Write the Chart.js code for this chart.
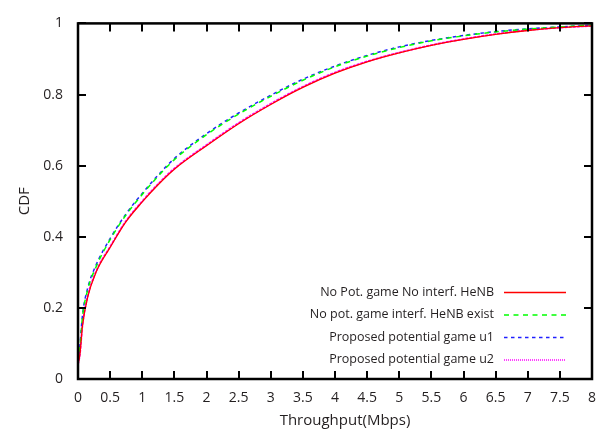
<!DOCTYPE html>
<html>
<head>
<meta charset="utf-8">
<script src="https://cdn.jsdelivr.net/npm/chart.js@4.4.1/dist/chart.umd.min.js"></script>
<style>
  body { margin: 0; background: #fff; }
  #wrap { width: 610px; height: 430px; }
</style>
</head>
<body>
<div id="wrap"><canvas id="myChart" width="610" height="430"></canvas></div>
<script>
// throughput values (Mbps) where the CDF curves were read
const throughput = [0, 0.03, 0.07, 0.15, 0.28, 0.5, 0.75, 1, 1.25, 1.5, 2, 2.5, 3, 3.5, 4, 4.5, 5, 5.5, 6, 6.5, 7, 7.5, 8];

const cdfNoPotNoInterf = [0.04, 0.07, 0.15, 0.23, 0.30, 0.37, 0.443, 0.498, 0.547, 0.59, 0.656, 0.718, 0.772, 0.82, 0.86, 0.892, 0.917, 0.938, 0.955, 0.969, 0.98, 0.988, 0.993];
const cdfNoPotInterf   = [0.05, 0.09, 0.175, 0.25, 0.315, 0.392, 0.462, 0.519, 0.571, 0.617, 0.687, 0.745, 0.795, 0.84, 0.878, 0.908, 0.932, 0.951, 0.965, 0.976, 0.984, 0.99, 0.995];
const cdfPotU1         = [0.05, 0.095, 0.18, 0.255, 0.32, 0.395, 0.465, 0.522, 0.574, 0.62, 0.69, 0.748, 0.798, 0.843, 0.88, 0.91, 0.934, 0.952, 0.966, 0.977, 0.985, 0.99, 0.995];
const cdfPotU2         = [0.041, 0.07, 0.152, 0.232, 0.302, 0.372, 0.445, 0.5, 0.549, 0.592, 0.658, 0.72, 0.774, 0.822, 0.862, 0.893, 0.918, 0.939, 0.956, 0.97, 0.981, 0.988, 0.993];

const seriesLabels = [
  "No Pot. game No interf. HeNB",
  "No pot. game interf. HeNB exist",
  "Proposed potential game u1",
  "Proposed potential game u2"
];
const seriesValues = [cdfNoPotNoInterf, cdfNoPotInterf, cdfPotU1, cdfPotU2];
const colors = ["#ff0000", "#00ff00", "#2020ff", "#ff00ff"];
const dashes = [[], [5, 4.5], [3.5, 3.5], [3, 1]];
const legendDashes = [[], [5, 4.5], [3.5, 3.5], [1, 1]];
const widths = [1.3, 1.5, 1.5, 1.8];

const xTitle = "Throughput(Mbps)";
const textColor = "#231f20";
Chart.defaults.font.family = "'Open Sans', sans-serif";
Chart.defaults.font.size = 14;
Chart.defaults.color = textColor;

// gnuplot style frame, inner ticks, x title and legend
const framePlugin = {
  id: "frame",
  afterDatasetsDraw(chart) {
    const { ctx, chartArea: a, scales: { x, y } } = chart;
    ctx.save();
    ctx.strokeStyle = "#000";
    ctx.lineWidth = 2;
    ctx.beginPath();
    x.ticks.forEach(t => {
      const px = Math.round(x.getPixelForValue(t.value));
      ctx.moveTo(px, a.bottom); ctx.lineTo(px, a.bottom - 8);
      ctx.moveTo(px, a.top); ctx.lineTo(px, a.top + 8);
    });
    y.ticks.forEach(t => {
      const py = Math.round(y.getPixelForValue(t.value));
      ctx.moveTo(a.left, py); ctx.lineTo(a.left + 8, py);
      ctx.moveTo(a.right, py); ctx.lineTo(a.right - 8, py);
    });
    ctx.stroke();
    ctx.lineWidth = 2.5;
    ctx.strokeRect(a.left, a.top, a.right - a.left, a.bottom - a.top);

    // x axis title (sits a little right of centre in the original)
    ctx.fillStyle = textColor;
    ctx.font = "15px 'Open Sans', sans-serif";
    ctx.textAlign = "center";
    ctx.textBaseline = "middle";
    ctx.fillText(xTitle, (a.left + a.right) / 2 + 10, 421);

    // legend, bottom right inside the plot
    const lineEnd = a.right - 26;
    const lineStart = lineEnd - 62;
    let rowY = a.bottom - 87;
    ctx.font = "12.5px 'Open Sans', sans-serif";
    ctx.textAlign = "right";
    chart.data.datasets.forEach((ds, i) => {
      ctx.fillStyle = textColor;
      ctx.fillText(ds.label, lineStart - 10, rowY);
      ctx.strokeStyle = ds.borderColor;
      ctx.lineWidth = 1.3;
      ctx.setLineDash(legendDashes[i]);
      ctx.beginPath();
      ctx.moveTo(lineStart, rowY + 0.5);
      ctx.lineTo(lineEnd, rowY + 0.5);
      ctx.stroke();
      ctx.setLineDash([]);
      rowY += 22.5;
    });
    ctx.restore();
  }
};

const ctx = document.getElementById("myChart").getContext("2d");

new Chart(ctx, {
  type: "line",
  data: {
    datasets: seriesLabels.map((label, i) => ({
      label: label,
      data: throughput.map((t, j) => ({ x: t, y: seriesValues[i][j] })),
      borderColor: colors[i],
      borderDash: dashes[i],
      borderWidth: widths[i],
      pointRadius: 0,
      fill: false,
      cubicInterpolationMode: "monotone"
    }))
  },
  options: {
    responsive: false,
    animation: false,
    events: [],
    layout: { padding: { left: 0, right: 18, top: 16, bottom: 0 } },
    plugins: {
      legend: { display: false },
      tooltip: { enabled: false }
    },
    scales: {
      x: {
        type: "linear",
        min: 0,
        max: 8,
        border: { display: false },
        grid: { display: false, drawTicks: false },
        ticks: {
          stepSize: 0.5,
          padding: 11,
          maxRotation: 0,
          autoSkip: false,
          color: textColor,
          callback: v => String(+v.toFixed(2))
        },
        afterFit: s => { s.height = 51; }
      },
      y: {
        min: 0,
        max: 1,
        border: { display: false },
        grid: { display: false, drawTicks: false },
        ticks: {
          stepSize: 0.2,
          padding: 15,
          color: textColor,
          callback: v => String(+v.toFixed(2))
        },
        title: {
          display: true,
          text: "CDF",
          color: textColor,
          font: { size: 15 },
          padding: { top: 16, bottom: 0 }
        },
        afterFit: s => { s.width = 78; }
      }
    }
  },
  plugins: [framePlugin]
});
</script>
</body>
</html>
